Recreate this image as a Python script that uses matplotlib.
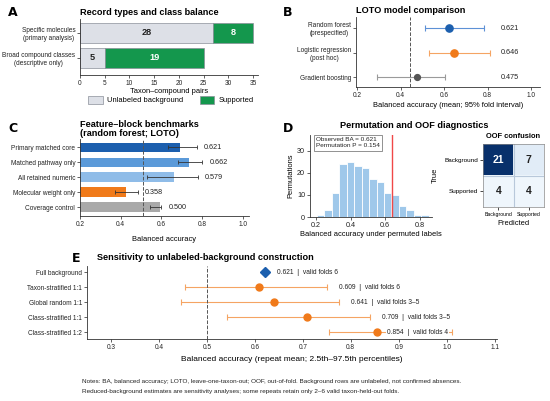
import numpy as np
import matplotlib
matplotlib.use("Agg")
import matplotlib.pyplot as plt
from matplotlib.patches import Patch
from matplotlib.colors import PowerNorm

plt.rcParams["font.family"] = ["Liberation Sans", "DejaVu Sans"]

DARK = "#222222"
GRAY = "#555555"
BLUE = "#1c5fae"
ORANGE = "#f07a1a"
LIGHT_ORANGE = "#f5a463"
GREEN = "#14974d"
BG_GRAY = "#dde0e7"

# A: record types
record_types = ["Specific molecules\n(primary analysis)",
                "Broad compound classes\n(descriptive only)"]
background_pairs = [27, 5]
supported_pairs = [8, 20]
background_text = ["28", "5"]
supported_text = ["8", "19"]

# B: LOTO model comparison
models = ["Random forest\n(prespecified)", "Logistic regression\n(post hoc)",
          "Gradient boosting"]
model_mean = [0.621, 0.646, 0.475]
model_lo = [0.511, 0.529, 0.290]
model_hi = [0.783, 0.810, 0.603]
model_ref = 0.443

# C: feature-block benchmarks
blocks = ["Primary matched core", "Matched pathway only", "All retained numeric",
          "Molecular weight only", "Coverage control"]
block_bar = [0.690, 0.735, 0.660, 0.425, 0.595]
block_lo = [0.630, 0.680, 0.530, 0.370, 0.545]
block_hi = [0.775, 0.800, 0.780, 0.485, 0.600]
block_label = [0.621, 0.662, 0.579, 0.358, 0.500]
block_ref = 0.51

# D: permutation histogram + OOF confusion
perm_ba = [0.227, 0.270, 0.313, 0.356, 0.399, 0.442, 0.485, 0.528,
           0.571, 0.614, 0.657, 0.700, 0.743, 0.786, 0.829]
perm_counts = [1, 3, 11, 24, 25, 23, 22, 17, 16, 11, 10, 5, 3, 1, 1]
perm_bin_width = 0.043
observed_line = 0.636
cm_labels = ["Background", "Supported"]
cm = np.array([[21, 7], [4, 4]])

# E: background construction sensitivity
designs = ["Full background", "Taxon-stratified 1:1", "Global random 1:1",
           "Class-stratified 1:1", "Class-stratified 1:2"]
design_mean = [0.621, 0.609, 0.641, 0.709, 0.854]
design_lo = [np.nan, 0.455, 0.445, 0.541, 0.755]
design_hi = [np.nan, 0.750, 0.775, 0.840, 1.012]
design_folds = ["6", "6", "3\u20135", "3\u20135", "4"]

W, H = 550, 401
fig = plt.figure(figsize=(W / 100, H / 100), dpi=100)

TICK = 4.7
LABEL = 5.4
TITLE = 6.6
VALUE = 5.2


def add_ax(x0, y0, x1, y1):
    return fig.add_axes([x0 / W, 1 - y1 / H, (x1 - x0) / W, (y1 - y0) / H])


def style(ax, size=TICK):
    for s in ("top", "right"):
        ax.spines[s].set_visible(False)
    for s in ("left", "bottom"):
        ax.spines[s].set_linewidth(0.6)
        ax.spines[s].set_color("#333333")
    ax.tick_params(labelsize=size, length=2, width=0.5, pad=1.5, colors=DARK)


# ---- A
ax = add_ax(80, 19, 258, 75)
y = np.arange(len(record_types))
ax.barh(y, background_pairs, height=0.8, color=BG_GRAY, edgecolor="#8a8f99", lw=0.5)
ax.barh(y, supported_pairs, left=background_pairs, height=0.8, color=GREEN,
        edgecolor="#8a8f99", lw=0.5)
for i in range(len(record_types)):
    ax.text(background_pairs[i] / 2, i, background_text[i], ha="center", va="center",
            fontsize=6.6, fontweight="bold", color=DARK)
    ax.text(background_pairs[i] + supported_pairs[i] / 2, i, supported_text[i],
            ha="center", va="center", fontsize=6.6, fontweight="bold", color="white")
ax.set_yticks(y, record_types, multialignment="center")
ax.set_xlim(0, 36)
ax.set_ylim(1.7, -0.55)
ax.set_xticks(range(0, 36, 5))
style(ax)
ax.set_xlabel("Taxon\u2013compound pairs", fontsize=LABEL, labelpad=0.5)
ax.set_title("Record types and class balance", loc="left", fontsize=TITLE,
             fontweight="bold", pad=3)
fig.legend(handles=[Patch(fc=BG_GRAY, ec="#8a8f99", lw=0.5, label="Unlabeled background"),
                    Patch(fc=GREEN, ec="#8a8f99", lw=0.5, label="Supported")],
           loc="center", bbox_to_anchor=(171 / W, 1 - 100 / H), ncol=2, frameon=False,
           fontsize=LABEL, handlelength=1.9, handleheight=1.2, handletextpad=0.6,
           columnspacing=2.2)

# ---- B
ax = add_ax(356, 17, 540, 87)
colors_b = [BLUE, ORANGE, "#555555"]
ecolors_b = ["#5d91d6", LIGHT_ORANGE, "#9a9a9a"]
sizes_b = [5.2, 5.2, 4.2]
for i in range(len(models)):
    m = model_mean[i]
    ax.errorbar(m, i, xerr=[[m - model_lo[i]], [model_hi[i] - m]], fmt="o",
                color=colors_b[i], ecolor=ecolors_b[i], ms=sizes_b[i], elinewidth=0.8,
                capsize=2, capthick=0.8)
    ax.text(max(model_hi[i], 0.81) + 0.05, i, f"{m:.3f}", va="center", fontsize=VALUE,
            color=DARK)
ax.axvline(model_ref, color=GRAY, ls="--", lw=0.7)
ax.set_yticks(range(len(models)), models, multialignment="center")
ax.set_xlim(0.195, 1.04)
ax.set_ylim(2.4, -0.45)
ax.set_xticks([0.2, 0.4, 0.6, 0.8, 1.0])
style(ax)
ax.set_xlabel("Balanced accuracy (mean; 95% fold interval)", fontsize=LABEL,
              labelpad=2)
ax.set_title("LOTO model comparison", loc="left", fontsize=TITLE, fontweight="bold",
             pad=3)

# ---- C
ax = add_ax(80, 139, 249, 216)
colors_c = [BLUE, "#5b9ad9", "#8fbce8", ORANGE, "#a9a9a9"]
yc = np.arange(len(blocks))
ax.barh(yc, block_bar, height=0.62, color=colors_c)
ax.errorbar(block_bar, yc,
            xerr=[np.subtract(block_bar, block_lo), np.subtract(block_hi, block_bar)],
            fmt="none", ecolor="#333333", elinewidth=0.6, capsize=1.5, capthick=0.6)
for i in range(len(blocks)):
    ax.text(block_hi[i] + 0.035, i, f"{block_label[i]:.3f}", va="center", fontsize=VALUE,
            color=DARK)
ax.axvline(block_ref, color=GRAY, ls="--", lw=0.7)
ax.set_yticks(yc, blocks)
ax.set_xlim(0.2, 1.03)
ax.set_ylim(4.6, -0.55)
ax.set_xticks([0.2, 0.4, 0.6, 0.8, 1.0])
style(ax)
ax.set_xlabel("Balanced accuracy", fontsize=LABEL, labelpad=6)
ax.set_title("Feature\u2013block benchmarks\n(random forest; LOTO)", loc="left",
             fontsize=TITLE, fontweight="bold", pad=2, linespacing=1.0)

# ---- D histogram
ax = add_ax(310, 135, 432, 217)
ax.bar(perm_ba, perm_counts, width=perm_bin_width, color="#9fc8ea", edgecolor="white",
       lw=0.6)
ax.axvline(observed_line, color="#f04848", lw=1.0)
ax.text(0.05, 0.97, "Observed BA = 0.621\nPermutation P = 0.154", transform=ax.transAxes,
        va="top", ha="left", fontsize=4.6, color=DARK, linespacing=1.25,
        bbox=dict(boxstyle="square,pad=0.35", fc="white", ec="#666666", lw=0.5))
ax.set_xlim(0.165, 0.87)
ax.set_ylim(0, 37)
ax.set_xticks([0.2, 0.4, 0.6, 0.8])
ax.set_yticks([0, 10, 20, 30])
style(ax, size=5.2)
ax.set_xlabel("Balanced accuracy under permuted labels", fontsize=LABEL, labelpad=1.5)
ax.set_ylabel("Permutations", fontsize=LABEL, labelpad=2)

# ---- D confusion
ax = add_ax(483, 144, 544, 207)
ax.imshow(cm, cmap="Blues", norm=PowerNorm(gamma=2.0, vmin=0, vmax=cm.max()),
          aspect="auto")
for r in range(2):
    for c in range(2):
        ax.text(c, r, str(cm[r, c]), ha="center", va="center", fontsize=7.5,
                fontweight="bold", color="white" if cm[r, c] > 10 else DARK)
ax.axhline(0.5, color="#b8c8da", lw=0.8)
ax.axvline(0.5, color="#b8c8da", lw=0.8)
ax.set_xticks([0, 1], cm_labels, fontsize=3.7)
ax.set_yticks([0, 1], cm_labels, fontsize=4.6)
ax.tick_params(length=2, width=0.5, pad=1.5)
for s in ax.spines.values():
    s.set_linewidth(0.5)
    s.set_color("#888888")
ax.set_xlabel("Predicted", fontsize=LABEL, labelpad=2)
ax.set_ylabel("True", fontsize=LABEL, labelpad=4)
ax.set_title("OOF confusion", fontsize=5.4, fontweight="bold", pad=4)
fig.text(414 / W, 1 - 125 / H, "Permutation and OOF diagnostics", ha="center",
         va="center", fontsize=TITLE, fontweight="bold")

# ---- E
ax = add_ax(87, 266, 497, 339)
ye = np.arange(len(designs))
for i in range(len(designs)):
    m = design_mean[i]
    if np.isnan(design_lo[i]):
        ax.plot(m, i, marker="D", color=BLUE, ms=5, ls="none")
        tx = m + 0.025
    else:
        ax.errorbar(m, i, xerr=[[m - design_lo[i]], [design_hi[i] - m]], fmt="o",
                    color=ORANGE, ecolor=LIGHT_ORANGE, ms=5, elinewidth=0.8,
                    capsize=2, capthick=0.8)
        tx = min(design_hi[i] + 0.025, 0.875)
    ax.text(tx, i, f"{m:.3f}  |  valid folds {design_folds[i]}", va="center",
            fontsize=4.8, color=DARK,
            bbox=dict(boxstyle="square,pad=0.15", fc="white", ec="none"))
ax.axvline(0.5, color=GRAY, ls="--", lw=0.7)
ax.set_yticks(ye, designs)
ax.set_xlim(0.25, 1.105)
ax.set_ylim(4.45, -0.42)
ax.set_xticks(np.round(np.arange(0.3, 1.11, 0.1), 1))
style(ax)
ax.set_xlabel("Balanced accuracy (repeat mean; 2.5th\u201397.5th percentiles)",
              fontsize=6, labelpad=4)
ax.text(0.025, 1.06, "Sensitivity to unlabeled-background construction",
        transform=ax.transAxes, fontsize=TITLE, fontweight="bold", va="bottom")

# panel letters
for letter, (px, py) in {"A": (8, 12), "B": (283, 12), "C": (8, 128),
                         "D": (283, 128), "E": (72, 259)}.items():
    fig.text(px / W, 1 - py / H, letter, fontsize=9, fontweight="bold",
             va="center", ha="left", family="DejaVu Sans")

notes = ["Notes: BA, balanced accuracy; LOTO, leave-one-taxon-out; OOF, out-of-fold. "
         "Background rows are unlabeled, not confirmed absences.",
         "Reduced-background estimates are sensitivity analyses; some repeats retain "
         "only 2\u20136 valid taxon-held-out folds."]
for line, py in zip(notes, (382, 391)):
    fig.text(82 / W, 1 - py / H, line, fontsize=4.6, color=DARK, va="center")

fig.savefig("out.png", dpi=100, facecolor="white")
